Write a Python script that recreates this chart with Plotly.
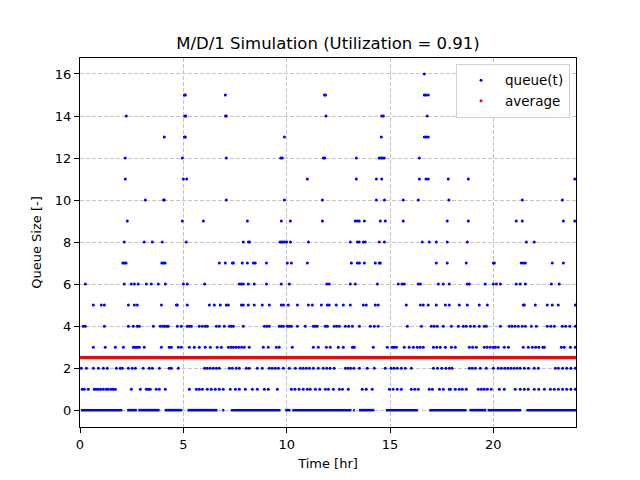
import plotly.graph_objects as go

# ---- data (time in hours, queue size) ----
q16 = [16.66]
q15 = [5.05, 5.1, 7.03, 11.83, 11.88, 16.66, 16.73, 16.85]
q14 = [2.24, 5.07, 5.12, 7.04, 7.08, 11.9, 14.6, 14.68, 16.8]
q13 = [4.08, 5.05, 5.1, 9.89, 14.58, 16.66, 16.75, 16.85]
q12 = [2.19, 4.95, 7.08, 9.71, 9.79, 11.77, 11.84, 13.37, 14.48, 14.56, 14.64, 14.72, 16.42]
q11 = [2.19, 5.0, 5.16, 11.0, 13.37, 14.34, 14.6, 16.42, 16.74, 16.85, 17.82, 18.79, 23.94]
q10 = [3.16, 4.04, 4.08, 7.08, 9.89, 11.73, 14.34, 14.73, 15.64, 16.37, 17.85, 21.4, 23.34]
q9 = [2.29, 4.95, 5.97, 8.1, 9.74, 10.18, 11.73, 13.32, 13.42, 13.51, 13.76, 14.53, 14.77,
      15.64, 17.77, 18.79, 21.11, 21.4, 23.39, 23.94]
q8 = [2.14, 3.11, 3.5, 3.98, 5.14, 7.9, 8.15, 8.2, 9.68, 9.75, 9.82, 9.9, 10.0, 10.18, 11.05,
      13.08, 13.42, 13.51, 13.71, 13.8, 14.48, 14.73, 16.56, 16.9, 17.24, 17.77, 18.74, 21.6, 21.98]
q7 = [2.07, 2.15, 2.23, 3.96, 4.04, 4.12, 6.74, 7.03, 7.37, 7.42, 7.85, 8.1, 8.39, 8.48, 9.02,
      10.03, 10.23, 11.0, 13.13, 13.42, 13.52, 13.76, 14.29, 14.48, 14.53, 17.24, 17.77, 18.69,
      20.0, 20.05, 21.35, 21.45, 21.55, 22.85, 23.39]
q6 = [0.26, 2.14, 2.48, 2.63, 2.82, 3.21, 3.45, 3.79, 4.13, 5.0, 5.19, 6.03, 7.71, 7.8, 7.9,
      8.14, 8.43, 9.02, 9.74, 10.13, 11.94, 12.06, 13.08, 13.32, 14.39, 15.4, 15.58, 15.69,
      16.37, 16.47, 17.34, 17.58, 17.87, 18.74, 18.84, 19.61, 20.0, 20.15, 20.34, 21.11, 21.3,
      21.55, 22.81, 23.19]
q5 = [0.645, 1.03, 1.18, 2.34, 2.63, 2.77, 3.94, 4.66, 4.71, 5.19, 6.26, 6.5, 6.79, 7.08, 7.18,
      7.81, 7.9, 8.14, 8.43, 8.82, 9.16, 9.74, 9.85, 10.08, 10.52, 11.05, 11.24, 11.68, 11.97,
      12.06, 12.4, 12.74, 13.08, 13.71, 13.85, 14.29, 14.43, 15.79, 16.47, 16.61, 16.85, 17.24,
      17.68, 17.87, 18.35, 18.74, 19.32, 19.71, 21.45, 21.5, 22.03, 22.61, 22.85, 23.14, 23.97]
q4 = [0.16, 0.26, 1.18, 2.34, 2.58, 2.77, 2.87, 3.55, 3.88, 4.0, 4.1, 4.2, 4.27, 4.71, 4.9,
      5.19, 5.29, 5.39, 5.77, 5.92, 6.06, 6.16, 6.6, 6.74, 6.98, 7.23, 7.32, 7.42, 7.9, 8.92,
      9.04, 9.16, 9.64, 9.74, 9.84, 10.03, 10.13, 10.23, 10.52, 10.9, 11.29, 11.38, 11.48, 11.87,
      11.97, 12.3, 12.42, 12.55, 12.84, 13.0, 13.18, 13.52, 14.05, 14.24, 14.43, 15.84, 16.52,
      17.0, 17.14, 17.29, 17.58, 17.97, 18.31, 18.55, 18.69, 18.89, 19.08, 19.32, 19.56, 19.66,
      20.34, 20.77, 20.9, 21.05, 21.21, 21.4, 21.55, 21.84, 22.08, 22.61, 22.78, 22.95, 23.34,
      23.5, 23.7, 23.97]
q3 = [0.645, 1.22, 1.71, 2.1, 2.58, 2.68, 2.77, 2.87, 3.11, 3.94, 4.32, 4.42, 4.76, 4.9, 5.29,
      5.53, 5.77, 6.06, 6.31, 6.64, 6.84, 7.18, 7.3, 7.42, 7.55, 7.68, 7.82, 7.95, 8.19, 8.87,
      9.11, 9.5, 9.64, 10.27, 11.29, 11.53, 11.92, 12.11, 12.5, 12.74, 13.18, 13.27, 14.19, 14.87,
      15.11, 15.21, 15.31, 15.69, 15.93, 16.13, 16.32, 16.46, 16.61, 17.1, 17.26, 17.43, 17.68,
      17.97, 18.16, 18.84, 19.0, 19.18, 19.56, 19.7, 19.85, 20.0, 20.1, 20.24, 20.53, 20.73,
      21.45, 21.69, 21.89, 22.05, 22.2, 22.4, 22.47, 23.29, 23.43, 23.73, 23.97]
q2 = [0.06, 0.31, 0.645, 0.89, 1.13, 1.32, 1.76, 1.95, 2.05, 2.34, 2.53, 2.68, 3.06, 3.35, 3.5,
      3.84, 4.32, 4.42, 4.76, 6.03, 6.16, 6.3, 6.45, 6.6, 6.74, 7.23, 7.37, 7.56, 7.71, 8.05,
      8.19, 8.58, 8.82, 9.16, 9.3, 9.45, 9.6, 9.84, 10.13, 10.42, 10.66, 10.8, 10.95, 11.1, 11.29,
      11.53, 11.77, 11.94, 12.1, 12.3, 12.84, 12.97, 13.1, 13.25, 13.52, 13.9, 14.24, 14.77,
      15.06, 15.2, 15.35, 15.55, 15.74, 16.03, 17.1, 17.3, 17.5, 17.7, 17.87, 18.0, 18.84, 18.98,
      19.13, 19.37, 19.66, 20.0, 20.24, 20.39, 20.55, 20.7, 20.85, 21.0, 21.15, 21.3, 21.5,
      21.7, 21.98, 22.18, 23.0, 23.15, 23.35, 23.55, 23.75, 23.97]
q1 = [0.11, 0.21, 0.4, 0.69, 0.79, 0.89, 1.0, 1.13, 1.27, 1.37, 1.5, 1.6, 1.71, 2.48, 2.92,
      3.21, 3.31, 3.4, 3.69, 3.84, 4.13, 5.29, 5.63, 5.77, 5.92, 6.16, 6.35, 6.55, 6.74, 6.93,
      7.27, 7.52, 7.71, 8.0, 8.34, 8.58, 8.92, 9.11, 9.55, 10.23, 10.4, 10.6, 10.8, 11.0, 11.14,
      11.39, 11.6, 11.87, 12.02, 12.26, 12.55, 12.7, 12.98, 13.66, 13.85, 14.14, 14.97, 15.15,
      15.35, 15.55, 16.03, 16.2, 16.37, 16.9, 17.05, 17.39, 17.58, 17.87, 17.92, 18.16, 18.35,
      18.5, 18.69, 19.27, 19.42, 19.56, 19.71, 19.9, 20.29, 20.53, 21.06, 21.3, 21.5, 21.69,
      21.98, 22.2, 22.47, 22.76, 22.95, 23.15, 23.35, 23.55, 23.75, 23.97]
# periods where the queue is empty (start, end of each dense run of zero samples)
zero_start = [0.05, 2.28, 2.82, 4.1, 5.2, 6.88, 7.3, 9.93, 10.27, 13.22, 13.5, 14.8, 16.9, 18.84, 19.72, 21.6]
zero_end = [2.05, 2.75, 3.85, 4.95, 6.65, 6.98, 9.7, 10.18, 13.13, 13.3, 14.24, 16.35, 18.7, 19.66, 21.35, 24.0]

average_value = 2.5
sim_start, sim_end = 0.0, 24.0

levels = {16: q16, 15: q15, 14: q14, 13: q13, 12: q12, 11: q11, 10: q10, 9: q9,
          8: q8, 7: q7, 6: q6, 5: q5, 4: q4, 3: q3, 2: q2, 1: q1}

xs, ys = [], []
for lvl, times in levels.items():
    xs.extend(times)
    ys.extend([lvl] * len(times))

zx, zy = [], []
for s, e in zip(zero_start, zero_end):
    zx += [s, e, None]
    zy += [0, 0, None]

BLUE = "#0000ff"
RED = "#ff0000"

fig = go.Figure()
fig.add_trace(go.Scatter(x=zx, y=zy, mode="lines", line=dict(color=BLUE, width=2.6),
                         showlegend=False, hoverinfo="skip"))
fig.add_trace(go.Scatter(x=xs, y=ys, mode="markers", marker=dict(color=BLUE, size=3),
                         showlegend=False))
fig.add_trace(go.Scatter(x=[sim_start, sim_end], y=[average_value, average_value], mode="lines",
                         line=dict(color=RED, width=3.4), showlegend=False))
# legend entries
fig.add_trace(go.Scatter(x=[None], y=[None], mode="markers", marker=dict(color=BLUE, size=3),
                         name="queue(t)"))
fig.add_trace(go.Scatter(x=[None], y=[None], mode="markers", marker=dict(color=RED, size=3),
                         name="average"))

axis_common = dict(showline=True, linecolor="black", linewidth=1, mirror=True,
                   ticks="outside", ticklen=5, tickcolor="black", tickwidth=1,
                   showgrid=True, gridcolor="#c4c4c4", gridwidth=1, griddash="4px,2px",
                   zeroline=False, tickfont=dict(size=13, color="black"))

fig.update_layout(
    width=640, height=480,
    margin=dict(l=80, r=64, t=58, b=53),
    paper_bgcolor="white", plot_bgcolor="white",
    font=dict(family="DejaVu Sans", size=13, color="black"),
    title=dict(text="M/D/1 Simulation (Utilization = 0.91)", x=0.5125, xanchor="center",
               y=1 - 43 / 480, yanchor="middle", font=dict(size=16.5, color="black")),
    xaxis=dict(range=[0, 24], tickvals=[0, 5, 10, 15, 20],
               title=dict(text="Time [hr]", standoff=8, font=dict(size=13)), **axis_common),
    yaxis=dict(range=[-0.8, 16.76], tickvals=list(range(0, 17, 2)),
               title=dict(text="Queue Size [-]", standoff=10, font=dict(size=13)), **axis_common),
    legend=dict(x=0.988, y=0.984, xanchor="right", yanchor="top", bgcolor="white",
                bordercolor="#d0d0d0", borderwidth=1, font=dict(size=13.5), itemwidth=38),
    showlegend=True,
)

fig.write_html("out.html", config={"displayModeBar": False},
               post_script="document.body.style.margin='0';")
